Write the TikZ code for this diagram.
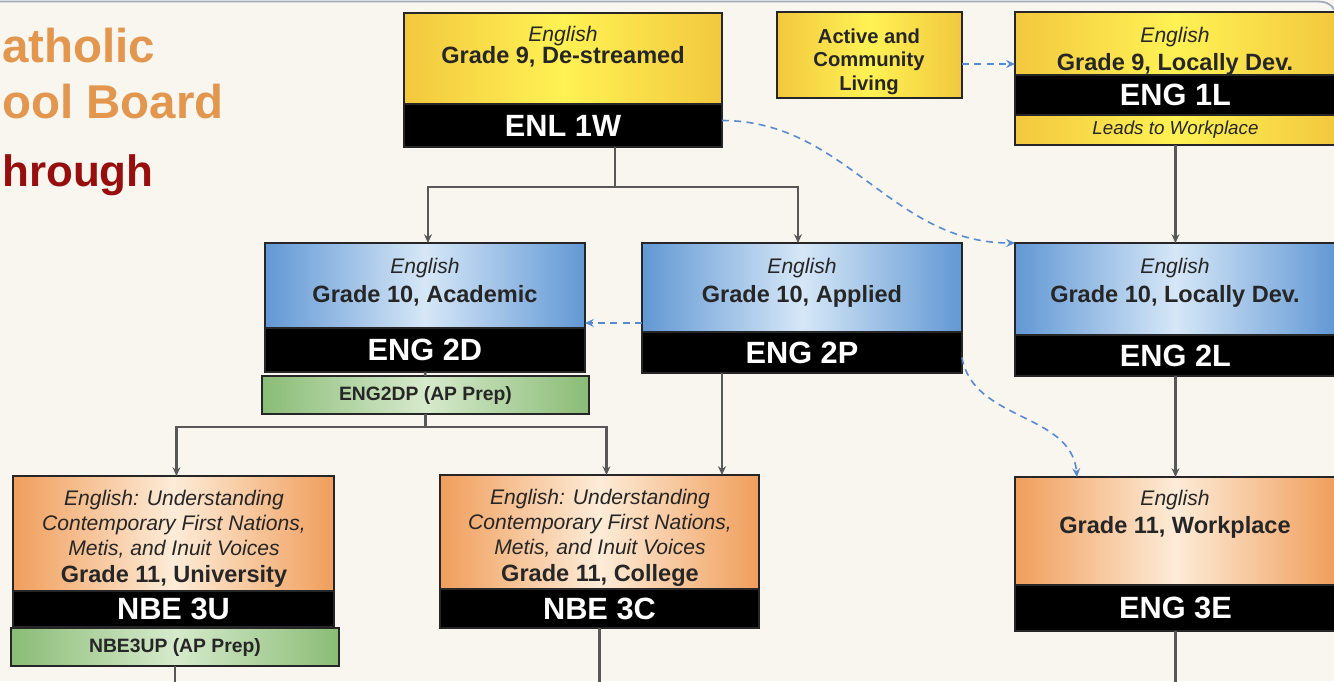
\documentclass[tikz,border=0pt]{standalone}
\usepackage{fontspec}
\setmainfont{Liberation Sans}
\usetikzlibrary{arrows.meta, positioning, calc}
\definecolor{PageBg}{RGB}{249,246,240}
\definecolor{YelEdge}{RGB}{242,200,62}
\definecolor{YelMid}{RGB}{255,242,84}
\definecolor{BluEdge}{RGB}{98,152,212}
\definecolor{BluMid}{RGB}{214,231,247}
\definecolor{OrgEdge}{RGB}{240,158,92}
\definecolor{OrgMid}{RGB}{253,236,216}
\definecolor{GrnEdge}{RGB}{138,188,118}
\definecolor{GrnMid}{RGB}{214,234,204}
\definecolor{FlowGrey}{RGB}{88,88,88}
\definecolor{AltBlue}{RGB}{88,138,208}
\definecolor{TitleOrange}{RGB}{226,150,78}
\definecolor{TitleRed}{RGB}{150,14,14}
\definecolor{FrameLine}{RGB}{160,172,190}
\newcommand{\crsname}[1]{{\itshape #1}}
\newcommand{\crsgrade}[1]{{\bfseries\fontsize{13.4}{13}\selectfont #1}}
\tikzset{
  course/.style={draw=black!85, line width=0.8pt, inner sep=0, outer sep=0, anchor=north west},
  yelbox/.style={course, left color=YelEdge, right color=YelEdge, middle color=YelMid},
  blubox/.style={course, left color=BluEdge, right color=BluEdge, middle color=BluMid},
  orgbox/.style={course, left color=OrgEdge, right color=OrgEdge, middle color=OrgMid},
  grnbox/.style={course, left color=GrnEdge, right color=GrnEdge, middle color=GrnMid,
    text=black!85, font=\bfseries\fontsize{11}{12}\selectfont},
  codebox/.style={course, fill=black, text=white, font=\bfseries\fontsize{17.5}{18}\selectfont},
  lbl/.style={align=center, inner sep=0, anchor=north, text=black!85, font=\fontsize{12}{13}\selectfont},
  ttl/.style={anchor=base west, inner sep=0, font=\bfseries\fontsize{27}{30}\selectfont},
  flow/.style={draw=FlowGrey, line width=1.5pt, ->},
  link/.style={draw=FlowGrey, line width=1.5pt},
  alt/.style={draw=AltBlue, line width=0.9pt, dash pattern=on 4pt off 3pt, ->},
}
\begin{document}
\begin{tikzpicture}[x=0.02cm, y=-0.02cm, >={Stealth[length=5pt, width=4.5pt]}]
\useasboundingbox (0,0) rectangle (1334,681);
\fill[PageBg] (0,0) rectangle (1334,681);
\draw[FrameLine, line width=1pt] (0,1.5) -- (1316,1.5) to[out=0, in=110] (1334,10);

% board title
\node[ttl, text=TitleOrange] (ttl1) at (2,62) {atholic};
\node[ttl, text=TitleOrange] (ttl2) at (2,118) {ool Board};
\node[ttl, text=TitleRed, font=\bfseries\fontsize{25}{30}\selectfont] (ttl3) at (2,186) {hrough};

% grade 9
\node[yelbox, minimum width=6.36cm, minimum height=1.82cm] (g9d) at (404,13) {};
\node[codebox, minimum width=6.36cm, minimum height=0.86cm] (enl1w) at (g9d.south west) {ENL 1W};
\node[lbl] (g9dtxt) at (563,26) {\crsname{English}\\[-0.5pt]\crsgrade{Grade 9, De-streamed}};

\node[yelbox, minimum width=3.7cm, minimum height=1.72cm] (acl) at (777,12) {};
\node[lbl, font=\bfseries\fontsize{11.5}{13.6}\selectfont] (acltxt) at (869,28) {Active and\\Community\\Living};

\node[yelbox, minimum width=6.42cm, minimum height=1.26cm] (g9l) at (1015,12) {};
\node[codebox, minimum width=6.42cm, minimum height=0.8cm] (eng1l) at (g9l.south west) {ENG 1L};
\node[yelbox, minimum width=6.42cm, minimum height=0.6cm, text=black!85,
  font=\itshape\fontsize{10.7}{12}\selectfont] (lwp) at (eng1l.south west) {Leads to Workplace};
\node[lbl] (g9ltxt) at (1175,27) {\crsname{English}\\[2.9pt]\crsgrade{Grade 9, Locally Dev.}};

% grade 10
\node[blubox, minimum width=6.4cm, minimum height=1.7cm] (g10a) at (265,243) {};
\node[codebox, minimum width=6.4cm, minimum height=0.88cm] (eng2d) at (g10a.south west) {ENG 2D};
\node[grnbox, minimum width=6.54cm, minimum height=0.76cm] (eng2dp) at (262,376) {ENG2DP (AP Prep)};
\node[lbl] (g10atxt) at (425,258) {\crsname{English}\\[3.4pt]\crsgrade{Grade 10, Academic}};

\node[blubox, minimum width=6.4cm, minimum height=1.78cm] (g10p) at (642,243) {};
\node[codebox, minimum width=6.4cm, minimum height=0.82cm] (eng2p) at (g10p.south west) {ENG 2P};
\node[lbl] (g10ptxt) at (802,258) {\crsname{English}\\[3.4pt]\crsgrade{Grade 10, Applied}};

\node[blubox, minimum width=6.42cm, minimum height=1.84cm] (g10l) at (1015,243) {};
\node[codebox, minimum width=6.42cm, minimum height=0.82cm] (eng2l) at (g10l.south west) {ENG 2L};
\node[lbl] (g10ltxt) at (1175,258) {\crsname{English}\\[3.4pt]\crsgrade{Grade 10, Locally Dev.}};

% grade 11
\node[orgbox, minimum width=6.42cm, minimum height=2.3cm] (g11u) at (13,476) {};
\node[codebox, minimum width=6.42cm, minimum height=0.72cm] (nbe3u) at (g11u.south west) {NBE 3U};
\node[grnbox, minimum width=6.56cm, minimum height=0.76cm] (nbe3up) at (11,628) {NBE3UP (AP Prep)};
\node[lbl, font=\fontsize{12}{14.2}\selectfont] (g11utxt) at (174,490) {\crsname{English: Understanding}\\\crsname{Contemporary First Nations,}\\
  \crsname{Metis, and Inuit Voices}\\[1pt]\crsgrade{Grade 11, University}};

\node[orgbox, minimum width=6.38cm, minimum height=2.28cm] (g11c) at (440,475) {};
\node[codebox, minimum width=6.38cm, minimum height=0.78cm] (nbe3c) at (g11c.south west) {NBE 3C};
\node[lbl, font=\fontsize{12}{14.2}\selectfont] (g11ctxt) at (600,489) {\crsname{English: Understanding}\\\crsname{Contemporary First Nations,}\\
  \crsname{Metis, and Inuit Voices}\\[1pt]\crsgrade{Grade 11, College}};

\node[orgbox, minimum width=6.42cm, minimum height=2.16cm] (g11w) at (1015,477) {};
\node[codebox, minimum width=6.42cm, minimum height=0.92cm] (eng3e) at (g11w.south west) {ENG 3E};
\node[lbl] (g11wtxt) at (1175,490) {\crsname{English}\\[2.9pt]\crsgrade{Grade 11, Workplace}};

% pathways
\coordinate (j1) at (615,187);
\draw[link] (j1 |- enl1w.south) -- (j1);
\draw[flow] (j1) -| ([xshift=0.06cm]g10a.north);
\draw[flow] (j1) -| ([xshift=-0.08cm]g10p.north);
\draw[flow] (lwp.south) -- (g10l.north);
\draw[link] (eng2d.south) -- (eng2dp.north);
\draw[link] (eng2dp.south) -- ++(0,13) coordinate (j2);
\draw[flow] (j2) -| ([xshift=0.06cm]g11u.north);
\draw[flow] (j2) -| ([xshift=0.14cm]g11c.north);
\draw[flow] ([xshift=-1.6cm]eng2p.south) -- ([xshift=-1.6cm]eng2p.south |- g11c.north);
\draw[flow] (eng2l.south) -- (g11w.north);
\coordinate (outu) at (nbe3up.south |- 0,690);
\coordinate (outc) at (nbe3c.south |- 0,690);
\coordinate (outw) at (eng3e.south |- 0,690);
\draw[link] (nbe3up.south) -- (outu);
\draw[link] (nbe3c.south) -- (outc);
\draw[link] (eng3e.south) -- (outw);

% other routes
\draw[alt] ([yshift=-0.18cm]acl.east) -- ([yshift=-0.18cm]acl.east -| g9l.west);
\draw[alt] ([yshift=0.1cm]enl1w.east) to[out=0, in=180] (g10l.north west);
\draw[alt] ([yshift=-0.71cm]g10p.west) -- ([yshift=-0.71cm]g10p.west -| g10a.east);
\draw[alt] ([yshift=-0.1cm]eng2p.east) to[out=-80, in=95] ([xshift=1.24cm]g11w.north west);
\end{tikzpicture}
\end{document}
